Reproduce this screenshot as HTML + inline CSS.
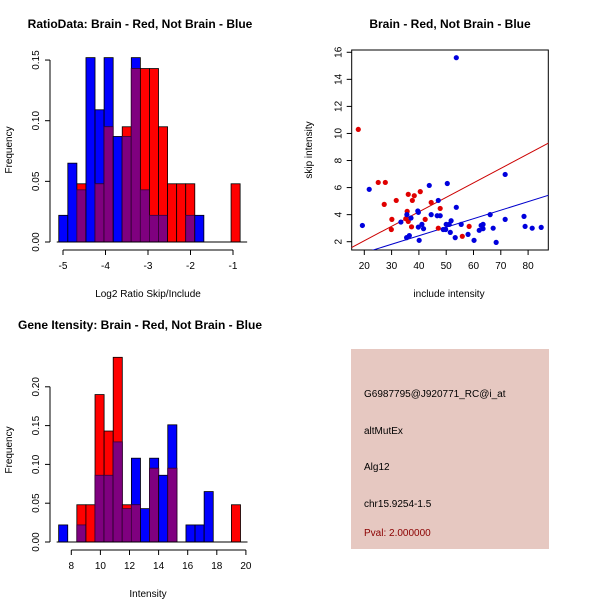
<!DOCTYPE html>
<html><head><meta charset="utf-8"><style>
body{margin:0;background:#fff}
svg{display:block;font-family:"Liberation Sans",sans-serif}
</style></head><body>
<svg id="c" width="600" height="600" viewBox="0 0 600 600">
<rect x="0" y="0" width="600" height="600" fill="#fff"/>
</svg>
<script>
// ---- Ratio histogram data ----
const ratioBinStart = -5.1;
const ratioBinWidth = 0.2134;
const ratioBlue = [0.022,0.065,0.043,0.152,0.109,0.152,0.087,0.087,0.152,0.043,0.022,0.022,0,0,0.022,0.022,0,0,0,0];
const ratioRed  = [0,0,0.048,0,0.048,0.095,0,0.095,0.143,0.143,0.143,0.095,0.048,0.048,0.048,0,0,0,0,0.048];
const ratioXTicks = [-5,-4,-3,-2,-1];
const ratioYTicks = [0,0.05,0.10,0.15];
const ratioYLabels = ["0.00","0.05","0.10","0.15"];
// ---- Intensity histogram data ----
const intBinStart = 7.13;
const intBinWidth = 0.625;
const intBlue = [0.022,0,0.022,0,0.086,0.086,0.129,0.043,0.108,0.043,0.108,0.086,0.151,0,0.022,0.022,0.065,0,0,0];
const intRed  = [0,0,0.048,0.048,0.19,0.143,0.238,0.048,0.048,0,0.095,0,0.095,0,0,0,0,0,0,0.048];
const intXTicks = [8,10,12,14,16,18,20];
const intYTicks = [0,0.05,0.10,0.15,0.20];
const intYLabels = ["0.00","0.05","0.10","0.15","0.20"];
// ---- Scatter data ----
const redX = [17.8,25.1,27.7,27.3,31.7,30.1,29.9,36.1,38.3,40.5,37.6,35.7,35.2,36.1,37.3,42.3,44.5,47.8,47.1,55.9,58.4];
const redY = [10.3,6.38,6.38,4.76,5.05,3.65,2.9,5.5,5.4,5.7,5.05,4.24,3.7,3.5,3.1,3.65,4.9,4.46,3.0,2.4,3.13];
const blueX = [19.3,21.8,33.4,35.6,37.1,35.5,36.5,39.6,39.8,39.8,41.1,41.7,40.1,43.8,44.5,47.1,46.7,47.8,50.4,48.9,49.8,50.0,51.1,51.8,51.5,53.7,53.7,53.3,55.5,58.0,60.2,62.1,62.8,63.5,63.5,66.1,67.2,68.3,71.6,71.6,78.5,78.9,81.5,84.8];
const blueY = [3.2,5.87,3.45,4.0,3.75,2.3,2.45,4.27,4.17,3.08,3.28,2.96,2.1,6.16,4.0,5.05,3.92,3.92,6.3,2.9,2.9,3.28,3.28,3.55,2.69,15.6,4.54,2.3,3.28,2.54,2.1,2.84,3.2,3.28,2.96,4.0,3.0,1.95,6.97,3.65,3.87,3.13,3.0,3.06];
const redFit = [-0.07, 0.107];   // intercept, slope
const blueFit = [-0.08, 0.063];
const scXTicks = [20,30,40,50,60,70,80];
const scYTicks = [2,4,6,8,10,12,14,16];

const svg = document.getElementById('c');
const NS = 'http://www.w3.org/2000/svg';
function mk(tag, attrs, parent){const e=document.createElementNS(NS,tag);for(const k in attrs)e.setAttribute(k,attrs[k]);(parent||svg).appendChild(e);return e;}
function txt(x,y,s,attrs){const e=mk('text',Object.assign({x:x,y:y,'font-size':10,fill:'#000','text-anchor':'middle'},attrs||{}));e.textContent=s;return e;}

function histogram(cfg){
  const g = mk('g',{});
  
  
  const X = v => cfg.x0 + (v - cfg.xv0) * cfg.xs;
  const Y = v => cfg.y0 - v * cfg.ys;
  for(let i=0;i<cfg.blue.length;i++){
    const a = cfg.binStart + i*cfg.binWidth, b = a + cfg.binWidth;
    const x1 = X(a), w = X(b)-X(a);
    const bl = cfg.blue[i], rd = cfg.red[i], mn = Math.min(bl,rd);
    if(bl>0){const r=mk('rect',{x:x1,y:Y(bl),width:w,height:Y(0)-Y(bl),fill:'#0000ff',stroke:'#000',"stroke-width":0.8},g);
      
      }
    if(rd>0){const r=mk('rect',{x:x1,y:Y(rd),width:w,height:Y(0)-Y(rd),fill:'#ff0000',stroke:'#000',"stroke-width":0.8},g);
      
      }
    if(mn>0){const r=mk('rect',{x:x1,y:Y(mn),width:w,height:Y(0)-Y(mn),fill:'#7f007f',stroke:'#3a003a',"stroke-width":0.8},g);
      
      }
  }
  // x axis
  const xa = mk('g',{});
  
  
  const ty = cfg.axisY;
  mk('line',{x1:X(cfg.xt[0]),x2:X(cfg.xt[cfg.xt.length-1]),y1:ty,y2:ty,stroke:'#000'},xa);
  cfg.xt.forEach(t=>{mk('line',{x1:X(t),x2:X(t),y1:ty,y2:ty+5,stroke:'#000'},xa);
    const l=txt(X(t),ty+19,String(t));});
  // y axis
  const ya = mk('g',{});
  
  
  const ax = cfg.axisX;
  mk('line',{x1:ax,x2:ax,y1:Y(cfg.yt[0]),y2:Y(cfg.yt[cfg.yt.length-1]),stroke:'#000'},ya);
  cfg.yt.forEach((t,i)=>{mk('line',{x1:ax-5,x2:ax,y1:Y(t),y2:Y(t),stroke:'#000'},ya);
    const l=txt(ax-11,Y(t),cfg.yl[i],{transform:`rotate(-90 ${ax-11} ${Y(t)})`});
    });
  // baseline
  mk('line',{x1:X(cfg.binStart)-2,x2:X(cfg.binStart+cfg.blue.length*cfg.binWidth)+7,y1:Y(0),y2:Y(0),stroke:'#000'},g);
}

histogram({name:'ratio-histogram',binStart:ratioBinStart,binWidth:ratioBinWidth,blue:ratioBlue,red:ratioRed,
  x0:63,xv0:-5,xs:42.5,y0:242,ys:1213,xt:ratioXTicks,yt:ratioYTicks,yl:ratioYLabels,axisY:250,axisX:50});
histogram({name:'intensity-histogram',binStart:intBinStart,binWidth:intBinWidth,blue:intBlue,red:intRed,
  x0:71.3,xv0:8,xs:14.55,y0:542,ys:776,xt:intXTicks,yt:intYTicks,yl:intYLabels,axisY:550,axisX:50});

// titles & labels
let t;
t=txt(140,28,'RatioData: Brain - Red, Not Brain - Blue',{'font-size':12,'font-weight':'bold'});
t=txt(148,297,'Log2 Ratio Skip/Include');
t=txt(12,150,'Frequency',{transform:'rotate(-90 12 150)'});
t=txt(140,329,'Gene Itensity: Brain - Red, Not Brain - Blue',{'font-size':12,'font-weight':'bold'});
t=txt(148,597,'Intensity');
t=txt(12,450,'Frequency',{transform:'rotate(-90 12 450)'});

// scatter
(function(){
  const X = v => 364.3 + (v-20)*2.73;
  const Y = v => 241.7 - (v-2)*13.53;
  const L=351.7,R=548.3,T=50,B=250;
  const g = mk('g',{});
  
  
  const box = mk('rect',{x:L,y:T,width:R-L,height:B-T,fill:'none',stroke:'#000'},g);
  
  
  mk('clipPath',{id:'sc'},g).appendChild(document.createElementNS(NS,'rect'));
  const cr = document.querySelector('#sc rect');cr.setAttribute('x',L);cr.setAttribute('y',T);cr.setAttribute('width',R-L);cr.setAttribute('height',B-T);
  [[redFit,'#cc0000','red-fit-line'],[blueFit,'#0000cc','blue-fit-line']].forEach(([f,c,n])=>{
    const x1=10,x2=95;
    const ln=mk('line',{x1:X(x1),x2:X(x2),y1:Y(f[0]+f[1]*x1),y2:Y(f[0]+f[1]*x2),stroke:c,'clip-path':'url(#sc)'},g);
    
    
  });
  redX.forEach((x,i)=>{const p=mk('circle',{cx:X(x),cy:Y(redY[i]),r:2.6,fill:'#e00000'},g);
    
    });
  blueX.forEach((x,i)=>{const p=mk('circle',{cx:X(x),cy:Y(blueY[i]),r:2.6,fill:'#0000dd'},g);
    
    });
  scXTicks.forEach(v=>{mk('line',{x1:X(v),x2:X(v),y1:B,y2:B+5,stroke:'#000'},g);
    const l=txt(X(v),B+19,String(v));});
  scYTicks.forEach(v=>{mk('line',{x1:L-5,x2:L,y1:Y(v),y2:Y(v),stroke:'#000'},g);
    const l=txt(L-10,Y(v),String(v),{transform:`rotate(-90 ${L-10} ${Y(v)})`});});
  let t=txt(450,28,'Brain - Red, Not Brain - Blue',{'font-size':12,'font-weight':'bold'});
  t=txt(449,297,'include intensity');
  t=txt(312,150,'skip intensity',{transform:'rotate(-90 312 150)'});
})();

// info panel
(function(){
  const g=mk('g',{});
  
  
  mk('rect',{x:351,y:349,width:198,height:200,fill:'#e6c8c1'},g);
  const lines=[['G6987795@J920771_RC@i_at',397,'#000','probe-id'],['altMutEx',434,'#000','event-type'],['Alg12',470,'#000','gene-name'],['chr15.9254-1.5',507,'#000','location'],['Pval: 2.000000',536,'#8b0000','pvalue']];
  lines.forEach(([s,y,c,n])=>{const e=txt(364,y,s,{'text-anchor':'start',fill:c});
    
    });
})();
</script>
</body></html>
